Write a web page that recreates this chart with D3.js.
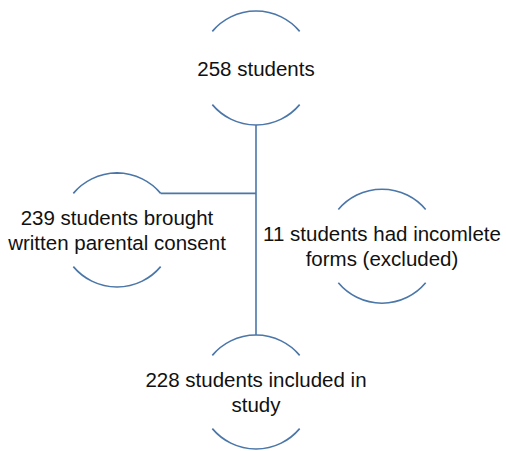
<!DOCTYPE html>
<html lang="en">
  <head>
    <meta charset="utf-8" />
    <title>Student flow</title>
    <script src="https://cdnjs.cloudflare.com/ajax/libs/d3/7.8.5/d3.min.js"></script>
    <style>
      body { margin: 0; background: #fff; }
      svg text {
        font-family: "Liberation Sans", Arial, sans-serif;
        font-size: 20.5px;
        fill: #111;
      }
      .ring { fill: none; stroke: #4a76a8; stroke-width: 1.6px; }
      .link { fill: none; stroke: #4a76a8; stroke-width: 1.6px; }
    </style>
  </head>
  <body>
    <svg id="flow" width="506" height="451"></svg>
    <script>
      // nodes of the flow
      const labels = [
        ["258 students"],
        ["239 students brought", "written parental consent"],
        ["11 students had incomlete", "forms (excluded)"],
        ["228 students included in", "study"],
      ];
      const cols = [1, 0, 2, 1];
      const rows = [0, 1, 1.1, 2];

      const r = 57;
      const x = d3.scaleLinear().domain([0, 1, 2]).range([117, 256, 382]);
      const y = d3.scaleLinear().domain([0, 2]).range([68, 392]);

      const svg = d3.select("#flow");
      const nodes = labels.map((l, i) => ({ lines: l, cx: x(cols[i]), cy: y(rows[i]) }));

      // connectors first
      const first = nodes[0], leftNode = nodes[1], last = nodes[3];
      const a = (50 * Math.PI) / 180;
      svg.append("path").attr("class", "link")
        .attr("d", `M${first.cx},${first.cy + r}V${last.cy - r}`);
      svg.append("path").attr("class", "link")
        .attr("d", `M${leftNode.cx + r * Math.sin(a)},${leftNode.cy - r * Math.cos(a)}H${first.cx}`);

      const arc = d3.arc().innerRadius(r).outerRadius(r);
      nodes.forEach((n) => {
        const g = svg.append("g").attr("transform", `translate(${n.cx},${n.cy})`);
        g.append("path").attr("class", "ring").attr("d", arc({ startAngle: -a, endAngle: a }));
        g.append("path").attr("class", "ring").attr("d", arc({ startAngle: Math.PI - a, endAngle: Math.PI + a }));
        const lh = 24.5;
        n.lines.forEach((t, j) => {
          g.append("text")
            .attr("text-anchor", "middle")
            .attr("dominant-baseline", "central")
            .attr("y", (j - (n.lines.length - 1) / 2) * lh)
            .text(t);
        });
      });
    </script>
  </body>
</html>
